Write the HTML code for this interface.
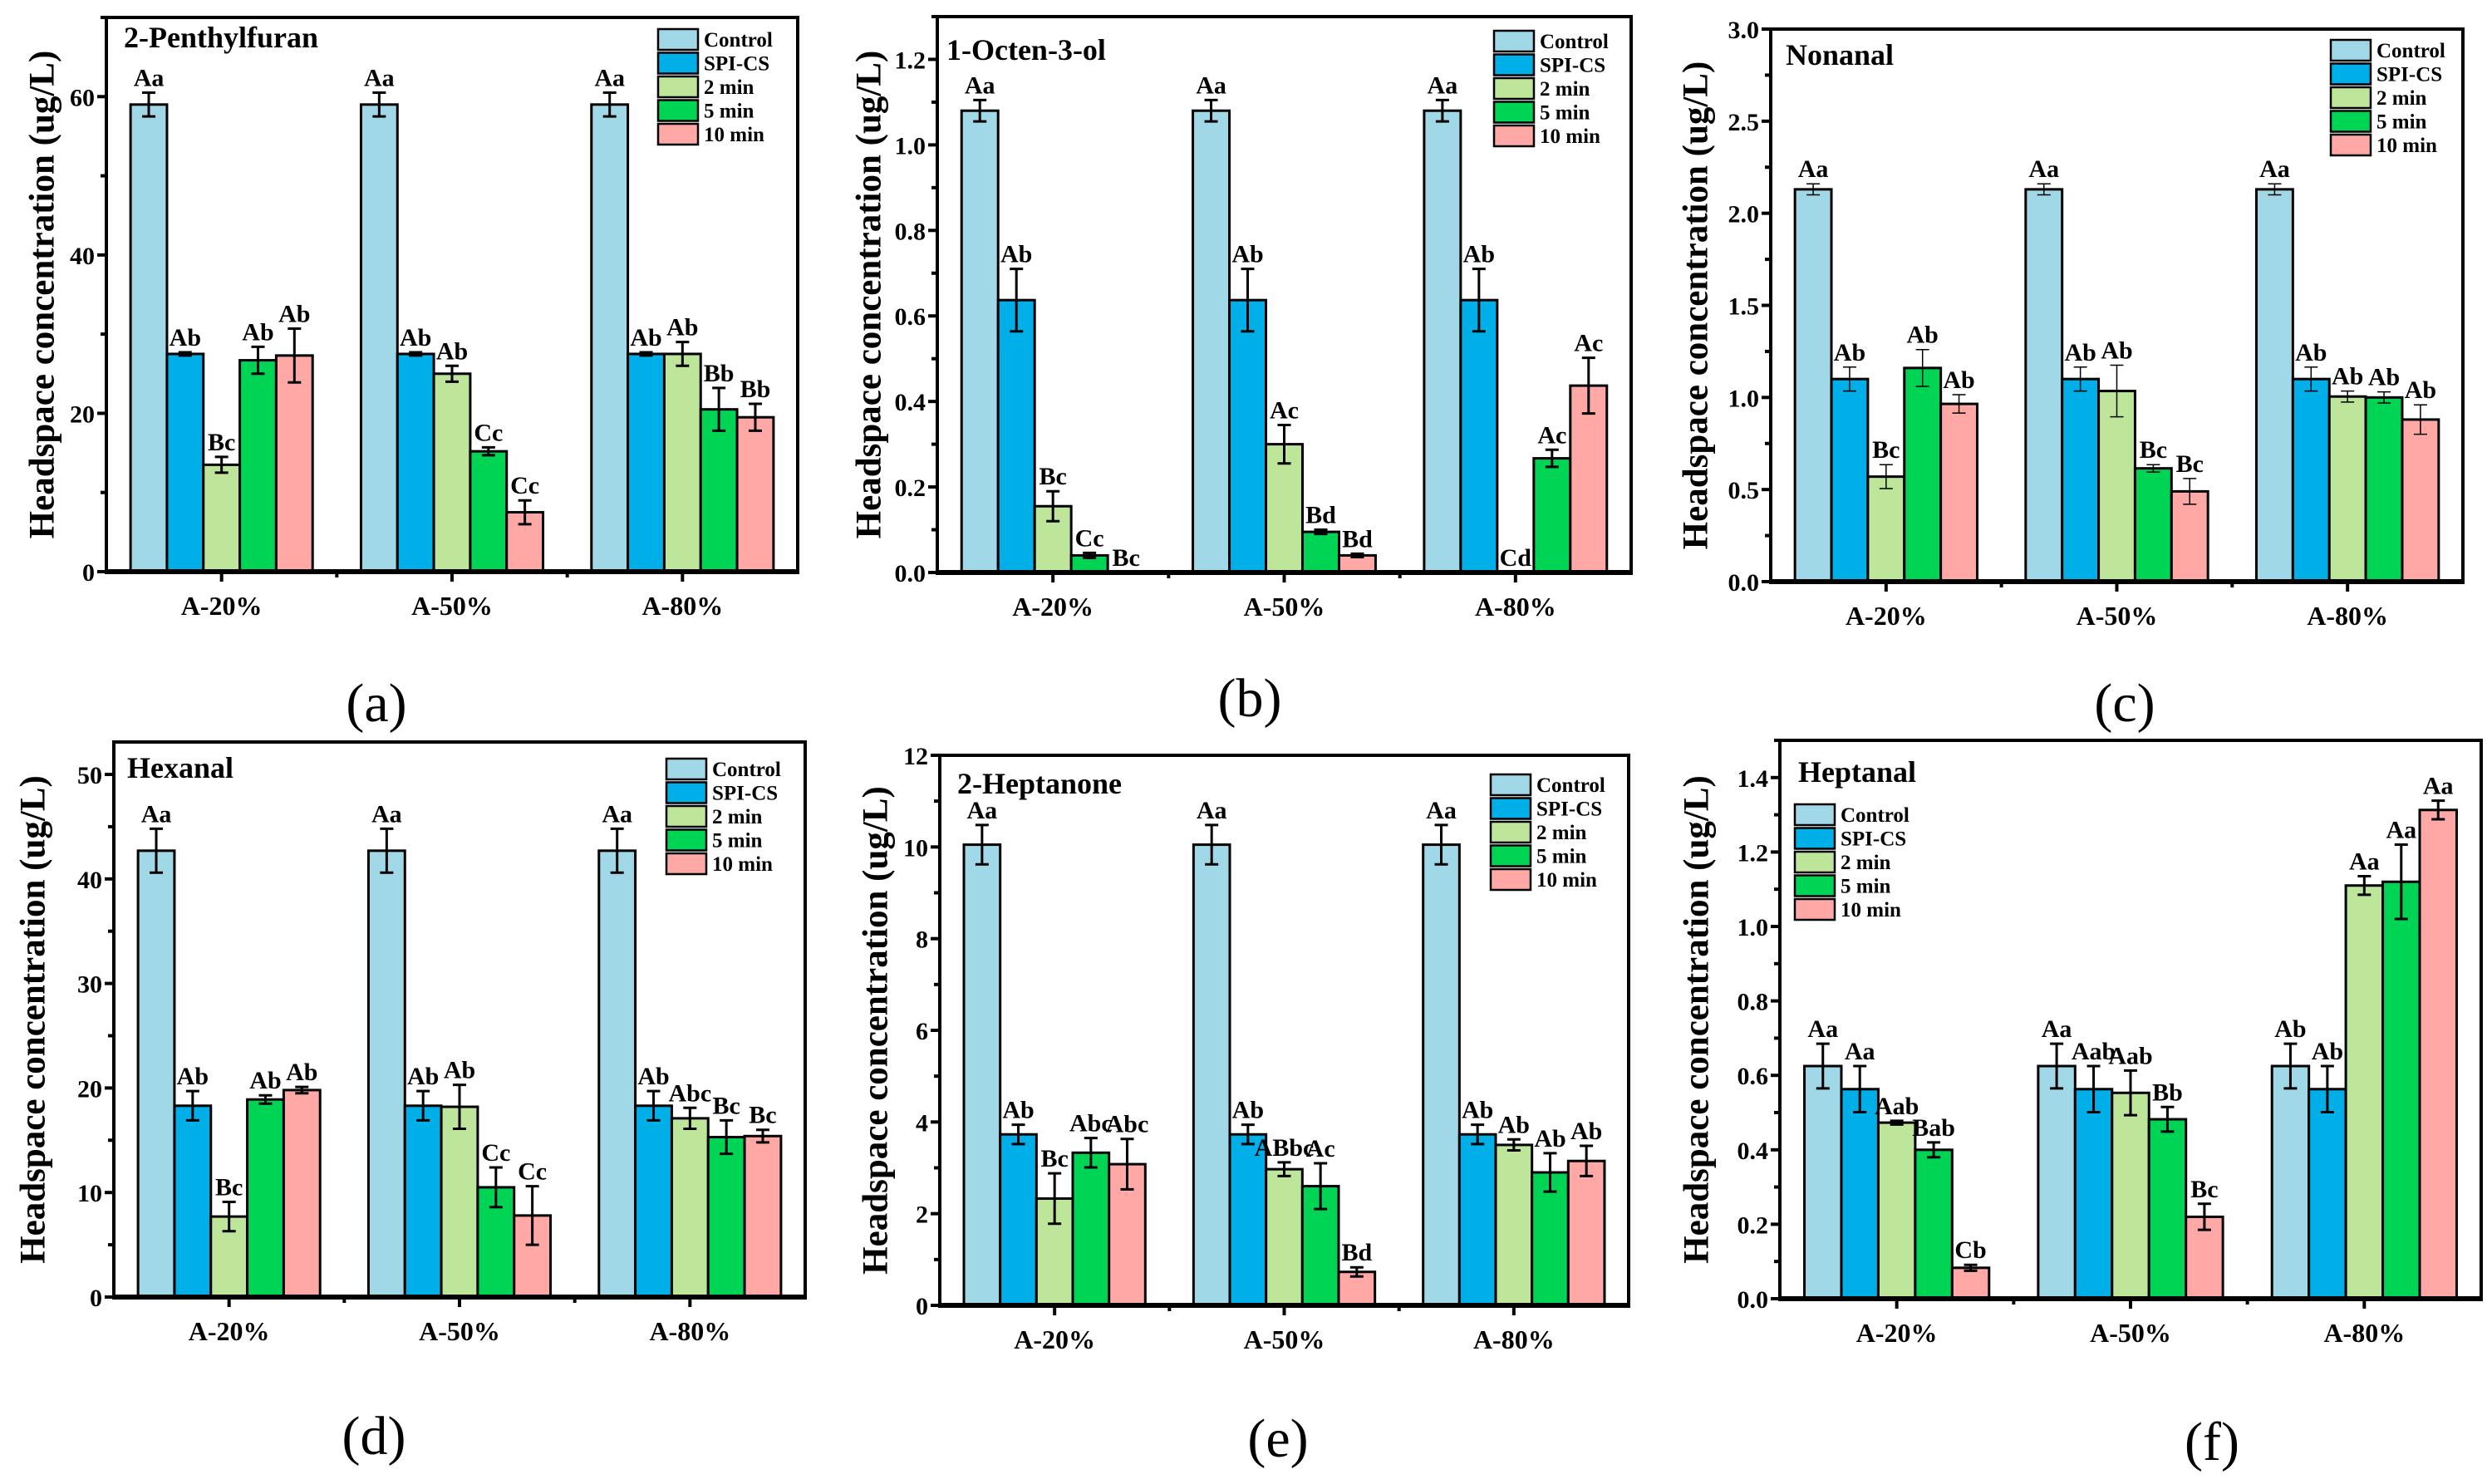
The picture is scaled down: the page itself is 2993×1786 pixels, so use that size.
<!DOCTYPE html>
<html><head><meta charset="utf-8"><style>
html,body{margin:0;padding:0;background:#fff;}
svg{display:block;font-family:"Liberation Serif",serif;}
</style></head><body>
<svg id="fig" width="2993" height="1786" viewBox="0 0 2993 1786" xmlns="http://www.w3.org/2000/svg"></svg>
<script>
const categories = ["A-20%","A-50%","A-80%"];
const seriesNames = ["Control","SPI-CS","2 min","5 min","10 min"];
const seriesColors = ["#a0d8e8","#00aee8","#bde69a","#00d455","#ffa8a6"];

// Panel a: 2-Penthylfuran
const aValues = [[59,59,59],[27.5,27.5,27.5],[13.5,25,27.5],[26.7,15.2,20.5],[27.3,7.5,19.5]];
const aErrors = [[1.5,1.5,1.5],[0.2,0.2,0.2],[1,1,1.5],[1.7,0.5,2.7],[3.4,1.5,1.7]];
const aLabels = [["Aa","Aa","Aa"],["Ab","Ab","Ab"],["Bc","Ab","Ab"],["Ab","Cc","Bb"],["Ab","Cc","Bb"]];
const aTicks = [0,20,40,60];
// Panel b: 1-Octen-3-ol
const bValues = [[1.08,1.08,1.08],[0.637,0.637,0.637],[0.155,0.30,0],[0.04,0.095,0.267],[0,0.04,0.437]];
const bErrors = [[0.025,0.025,0.025],[0.073,0.073,0.073],[0.035,0.045,0],[0.006,0.005,0.02],[0,0.004,0.065]];
const bLabels = [["Aa","Aa","Aa"],["Ab","Ab","Ab"],["Bc","Ac","Cd"],["Cc","Bd","Ac"],["Bc","Bd","Ac"]];
const bTicks = [0,0.2,0.4,0.6,0.8,1.0,1.2];
// Panel c: Nonanal
const cValues = [[2.13,2.13,2.13],[1.10,1.10,1.10],[0.57,1.035,1.005],[1.16,0.615,1.0],[0.965,0.49,0.88]];
const cErrors = [[0.03,0.03,0.03],[0.065,0.065,0.065],[0.065,0.14,0.03],[0.1,0.02,0.03],[0.05,0.07,0.08]];
const cLabels = [["Aa","Aa","Aa"],["Ab","Ab","Ab"],["Bc","Ab","Ab"],["Ab","Bc","Ab"],["Ab","Bc","Ab"]];
const cTicks = [0,0.5,1.0,1.5,2.0,2.5,3.0];
// Panel d: Hexanal
const dValues = [[42.7,42.7,42.7],[18.3,18.3,18.3],[7.7,18.2,17.1],[18.9,10.5,15.3],[19.8,7.8,15.4]];
const dErrors = [[2.1,2.1,2.1],[1.4,1.4,1.4],[1.4,2.1,1.0],[0.4,1.9,1.6],[0.3,2.8,0.6]];
const dLabels = [["Aa","Aa","Aa"],["Ab","Ab","Ab"],["Bc","Ab","Abc"],["Ab","Cc","Bc"],["Ab","Cc","Bc"]];
const dTicks = [0,10,20,30,40,50];
// Panel e: 2-Heptanone
const eValues = [[10.05,10.05,10.05],[3.73,3.73,3.73],[2.33,2.97,3.5],[3.33,2.6,2.9],[3.08,0.73,3.15]];
const eErrors = [[0.43,0.43,0.43],[0.21,0.21,0.21],[0.55,0.15,0.12],[0.32,0.5,0.42],[0.55,0.1,0.33]];
const eLabels = [["Aa","Aa","Aa"],["Ab","Ab","Ab"],["Bc","ABbc","Ab"],["Abc","Ac","Ab"],["Abc","Bd","Ab"]];
const eTicks = [0,2,4,6,8,10,12];
// Panel f: Heptanal
const fValues = [[0.625,0.625,0.625],[0.563,0.563,0.563],[0.473,0.553,1.11],[0.40,0.482,1.12],[0.083,0.22,1.313]];
const fErrors = [[0.06,0.06,0.06],[0.062,0.062,0.062],[0.005,0.06,0.025],[0.02,0.033,0.1],[0.008,0.035,0.025]];
const fLabels = [["Aa","Aa","Ab"],["Aa","Aab","Ab"],["Aab","Aab","Aa"],["Bab","Bb","Aa"],["Cb","Bc","Aa"]];
const fTicks = [0,0.2,0.4,0.6,0.8,1.0,1.2,1.4];

const NS="http://www.w3.org/2000/svg";
const svg=document.getElementById('fig');
function mk(tag,attrs,parent){const e=document.createElementNS(NS,tag);for(const k in attrs)e.setAttribute(k,attrs[k]);(parent||svg).appendChild(e);return e;}

const panels=[
 {id:'a',title:'2-Penthylfuran',L:128,R:960,T:21,B:688,ymax:70,minor:10,dec:0,vals:aValues,errs:aErrors,labs:aLabels,ticks:aTicks,tx:21,ty:36,lgx:-168,lgy:14,ytx:51,letter:'(a)',lx:453,ly:846,ew:3},
 {id:'b',title:'1-Octen-3-ol',L:1128,R:1963,T:20,B:689,ymax:1.3,minor:0.1,dec:1,vals:bValues,errs:bErrors,labs:bLabels,ticks:bTicks,tx:11,ty:52,lgx:-165,lgy:17,ytx:1046,letter:'(b)',lx:1504,ly:840,ew:3},
 {id:'c',title:'Nonanal',L:2131,R:2964,T:35,B:700,ymax:3.0,minor:0.25,dec:1,vals:cValues,errs:cErrors,labs:cLabels,ticks:cTicks,tx:18,ty:43,lgx:-159,lgy:13,ytx:2041,letter:'(c)',lx:2557,ly:846,ew:1.5},
 {id:'d',title:'Hexanal',L:137,R:969,T:893,B:1561,ymax:53.1,minor:5,dec:0,vals:dValues,errs:dErrors,labs:dLabels,ticks:dTicks,tx:16,ty:43,lgx:-167,lgy:20,ytx:40,letter:'(d)',lx:450,ly:1728,ew:3},
 {id:'e',title:'2-Heptanone',L:1131,R:1960,T:909,B:1571,ymax:12,minor:1,dec:0,vals:eValues,errs:eErrors,labs:eLabels,ticks:eTicks,tx:21,ty:46,lgx:-166,lgy:23,ytx:1054,letter:'(e)',lx:1538,ly:1731,ew:3},
 {id:'f',title:'Heptanal',L:2142,R:2986,T:891,B:1563,ymax:1.5,minor:0.1,dec:1,vals:fValues,errs:fErrors,labs:fLabels,ticks:fTicks,tx:22,ty:50,lgx:null,lgy:77,ytx:2042,letter:'(f)',lx:2662,ly:1735,ew:3}
];

panels.forEach(p=>{
 const g=mk('g',{});
 
 
 const W=p.R-p.L, H=p.B-p.T;
 const y=v=>p.B - v/p.ymax*H;
 const band=W/categories.length;
 const bw=band*0.158;
 const off=(band-5*bw)/2;
 const x=(ci,si)=>p.L+ci*band+off+si*bw;
 for(let s=0;s<5;s++){
  for(let c=0;c<3;c++){
   const v=p.vals[s][c], e=p.errs[s][c];
   if(v>0){
    const r=mk('rect',{x:x(c,s),y:y(v),width:bw,height:p.B-y(v),fill:seriesColors[s],stroke:'#000','stroke-width':3},g);
    
    
    if(e>0){
     const cx=x(c,s)+bw/2;
     const eb=mk('path',{d:`M${cx},${y(v+e)}V${y(Math.max(v-e,0))}M${cx-8},${y(v+e)}H${cx+8}M${cx-8},${y(Math.max(v-e,0))}H${cx+8}`,stroke:'#000','stroke-width':p.ew,fill:'none'},g);
     
     
    }
   }
   const t=mk('text',{x:x(c,s)+bw/2,y:y(v+e)-8,'text-anchor':'middle','font-size':30,'font-weight':'bold'},g);
   t.textContent=p.labs[s][c];
   
   
  }
 }
 const fr=mk('rect',{x:p.L,y:p.T,width:W,height:H,fill:'none',stroke:'#000','stroke-width':4},g);
 
 
 const xa=mk('line',{x1:p.L-2,y1:p.B,x2:p.R+2,y2:p.B,stroke:'#000','stroke-width':6},g);
 
 
 for(let v=0;v<=p.ymax+1e-9;v+=p.minor){
  const mj=p.ticks.some(t=>Math.abs(t-v)<1e-6);
  mk('line',{x1:p.L-(mj?11:7),y1:y(v),x2:p.L,y2:y(v),stroke:'#000','stroke-width':4},g);
 }
 p.ticks.forEach(t=>{
  const tl=mk('text',{x:p.L-14,y:y(t)+11,'text-anchor':'end','font-size':30,'font-weight':'bold'},g);
  tl.textContent=t.toFixed(p.dec);
  
  
 });
 categories.forEach((c,i)=>{
  const cx=p.L+band*(i+0.5);
  mk('line',{x1:cx,y1:p.B,x2:cx,y2:p.B+12,stroke:'#000','stroke-width':4},g);
  if(i>0) mk('line',{x1:p.L+band*i,y1:p.B,x2:p.L+band*i,y2:p.B+7,stroke:'#000','stroke-width':4},g);
  const xl=mk('text',{x:cx,y:p.B+52,'text-anchor':'middle','font-size':32,'font-weight':'bold'},g);
  xl.textContent=c;
  
  
 });
 const tt=mk('text',{x:p.L+p.tx,y:p.T+p.ty,'font-size':36,'font-weight':'bold'},g);
 tt.textContent=p.title;
 
 
 const cy=(p.T+p.B)/2;
 const yt=mk('text',{x:p.ytx,y:cy,'text-anchor':'middle','font-size':43,'font-weight':'bold','dominant-baseline':'central',transform:`rotate(-90 ${p.ytx} ${cy})`},g);
 yt.textContent='Headspace concentration (ug/L)';
 
 
 const lx0=p.lgx===null?p.L+18:p.R+p.lgx;
 const ly0=p.T+p.lgy;
 seriesNames.forEach((n,i)=>{
  const lg=mk('g',{},g);
  
  
  mk('rect',{x:lx0,y:ly0+i*28.5,width:48,height:25,fill:seriesColors[i],stroke:'#000','stroke-width':2.5},lg);
  const lt=mk('text',{x:lx0+55,y:ly0+i*28.5+21,'font-size':25,'font-weight':'bold'},lg);
  lt.textContent=n;
 });
 const pl=mk('text',{x:p.lx,y:p.ly+22,'text-anchor':'middle','font-size':66},g);
 pl.textContent=p.letter;
 
 
});
</script>
</body></html>
